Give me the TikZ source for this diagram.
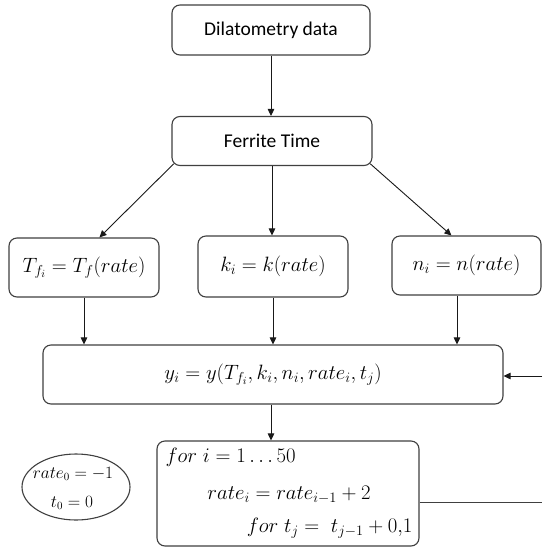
\documentclass[tikz,border=0pt]{standalone}
\usepackage{fontspec}
\setmainfont{Carlito}
\usetikzlibrary{arrows.meta,shapes.geometric,calc}
\begin{document}
\begin{tikzpicture}[x=1pt,y=-1pt,
  box/.style={draw=black!75, line width=1.1pt, rounded corners=8pt, inner sep=0pt},
  txt/.style={font=\fontsize{19.5}{23}\selectfont},
  mth/.style={font=\fontsize{22.5}{26}\selectfont},
  arr/.style={draw=black!90, line width=0.9pt, -{Triangle[length=7pt,width=6.5pt]}},
  conn/.style={draw=black!75, line width=0.9pt}]
\useasboundingbox[fill=white] (0,0) rectangle (542,550);
\node[box, txt, minimum width=198pt, minimum height=50pt] (dil) at (271,30) {Dilatometry data};
\node[box, txt, minimum width=200pt, minimum height=49pt] (fer) at (272,141) {Ferrite Time};
\node[box, mth, minimum width=150pt, minimum height=59pt] (tf) at (84,267.5) {$T_{f_i} = T_f(rate)$};
\node[box, mth, minimum width=150pt, minimum height=61pt] (kb) at (273,266.5) {$k_i = k(rate)$};
\node[box, mth, minimum width=149pt, minimum height=59pt] (nb) at (466.5,265.5) {$n_i = n(rate)$};
\node[box, mth, minimum width=460pt, minimum height=59pt] (yb) at (273,374.5) {$y_i = y(T_{f_i}, k_i, n_i, rate_i, t_j)$};
\node[box, minimum width=262pt, minimum height=105pt] (fb) at (288,493.5) {};
\node[mth, anchor=west] (l1) at (162,457) {$for\; i = 1\ldots 50$};
\node[mth] (l2) at (289,495) {$rate_i = rate_{i-1} + 2$};
\node[mth, anchor=east] (l3) at (416,528) {$for\; t_j =\; t_{j-1} + 0{,}1$};
\node[ellipse, draw=black!75, line width=1.1pt, minimum width=108pt, minimum height=66pt, inner sep=0pt] (el) at (76,487) {};
\node[font=\fontsize{16}{19}\selectfont] (e1) at (73,474) {$rate_0 = -1$};
\node[font=\fontsize{16}{19}\selectfont] (e2) at (72,503) {$t_0 = 0$};
\coordinate (rin) at (542,376);
\coordinate (rout) at (542,502);
\coordinate (nout) at ([xshift=-9.5pt]nb.south);
\draw[arr] (dil.south) -- (dil.south |- fer.north);
\draw[arr] ([xshift=2.3pt,yshift=2.3pt]fer.south west) -- ($(tf.north west)+(91,0)$);
\draw[arr] (fer.south) -- (fer.south |- kb.north);
\draw[arr] ([xshift=-2.3pt,yshift=2.3pt]fer.south east) -- ($(nb.north west)+(60,0)$);
\draw[arr] (tf.south) -- (tf.south |- yb.north);
\draw[arr] (kb.south) -- (kb.south |- yb.north);
\draw[arr] (nout) -- (nout |- yb.north);
\draw[arr] (rin) -- (rin -| yb.east);
\draw[arr] ($(yb.south)+(-2,0)$) -- ($(yb.south |- fb.north)+(-2,0)$);
\draw[conn] (rout -| fb.east) -- (rout);
\end{tikzpicture}
\end{document}
